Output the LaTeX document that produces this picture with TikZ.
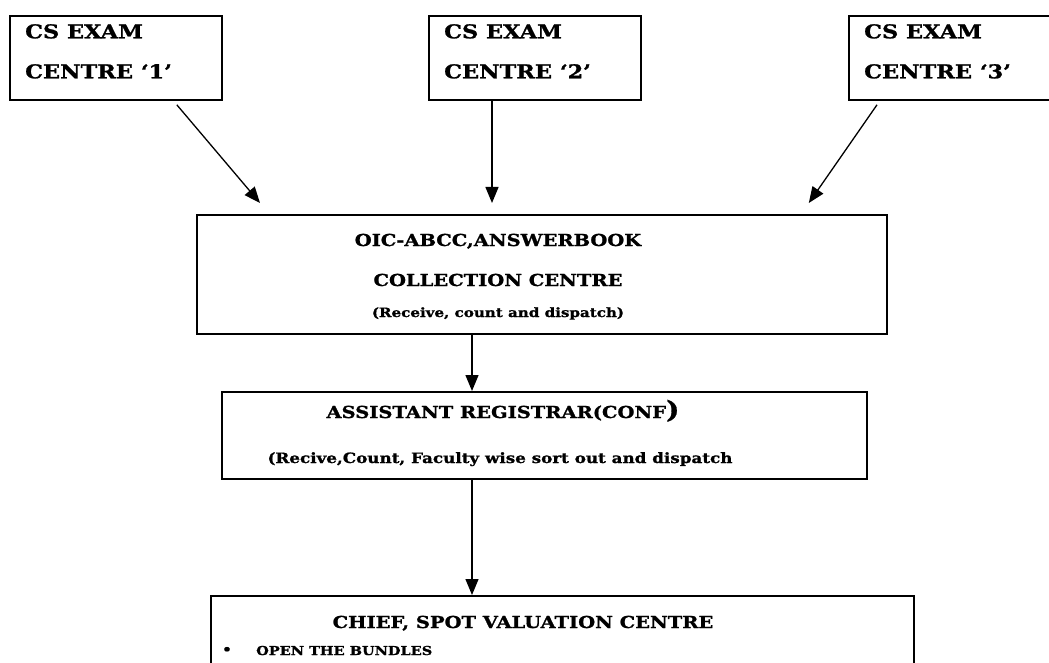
\documentclass[tikz,border=0pt]{standalone}
\usepackage{fontspec}
\setmainfont{DejaVu Serif}[FakeStretch=1.18,FakeBold=1.2]
\usetikzlibrary{arrows.meta,positioning}

\begin{document}
\begin{tikzpicture}%
  [x=1pt,y=-1pt,
   office/.style=
    {draw,line width=1.8pt,anchor=north west,inner sep=0pt},
   centre/.style=
    {office,minimum width=212pt,minimum height=84pt},
   head/.style=
    {inner sep=0pt,font=\bfseries\fontsize{19}{40}\selectfont},
   title/.style=
    {inner sep=0pt,anchor=base,font=\bfseries\fontsize{16.5}{20}\selectfont},
   note/.style=
    {inner sep=0pt,anchor=base,font=\bfseries\fontsize{12.8}{16}\selectfont},
   flow/.style={line width=1.3pt,-{Triangle[length=16pt,width=13pt]}}
  ]
  \useasboundingbox (0,0) rectangle (1049,663);
  \clip (0,0) rectangle (1049,663);
  % exam centres
  \node[centre] (c1) at (9,15) {};
  \node[centre] (c2) at (428,15) {};
  \node[centre] (c3) at (848,15) {};
  \node[head,anchor=north west,align=left] (c1t) at ([xshift=16pt,yshift=-9pt]c1.north west) {CS EXAM\\CENTRE ‘1’};
  \node[head,anchor=north west,align=left] (c2t) at ([xshift=16pt,yshift=-9pt]c2.north west) {CS EXAM\\CENTRE ‘2’};
  \node[head,anchor=north west,align=left] (c3t) at ([xshift=16pt,yshift=-9pt]c3.north west) {CS EXAM\\CENTRE ‘3’};
  % collection centre
  \node[office,minimum width=690pt,minimum height=119pt] (oic) at (196,214) {};
  \node[title] (oic1) at (498,246) {OIC-ABCC,ANSWERBOOK};
  \node[title] (oic2) at (498,286) {COLLECTION CENTRE};
  \node[note] (oic3) at (498,317) {(Receive, count and dispatch)};
  % registrar
  \node[office,minimum width=645pt,minimum height=87pt] (ar) at (221,391) {};
  \node[title] (ar1) at (503,418) {ASSISTANT REGISTRAR(CONF{\fontsize{24}{24}\selectfont)}};
  \node[note,font=\bfseries\fontsize{14.2}{16}\selectfont] (ar2) at (500,463) {(Recive,Count, Faculty wise sort out and dispatch};
  % spot valuation
  \node[office,minimum width=703pt,minimum height=120pt] (sv) at (210,595) {};
  \node[title] (sv1) at (523,628) {CHIEF, SPOT VALUATION CENTRE};
  \node[note] (sv2) at (227,654) {•};
  \node[note,font=\bfseries\fontsize{12.3}{16}\selectfont,anchor=base west] (sv3) at (256,655) {OPEN THE BUNDLES};

  \draw[flow] ([xshift=-46pt,yshift=-4pt]c1.south east) -- ([xshift=64pt,yshift=11pt]oic.north west);
  \draw[flow] ([xshift=64pt]c2.south west) -- ([xshift=296pt,yshift=11pt]oic.north west);
  \draw[flow] ([xshift=29pt,yshift=-4pt]c3.south west) -- ([xshift=-79pt,yshift=11pt]oic.north east);
  \draw[flow] ([xshift=276pt]oic.south west) -- ([xshift=251pt]ar.north west);
  \draw[flow] ([xshift=251pt]ar.south west) -- ([xshift=262pt]sv.north west);

\end{tikzpicture}
\end{document}
